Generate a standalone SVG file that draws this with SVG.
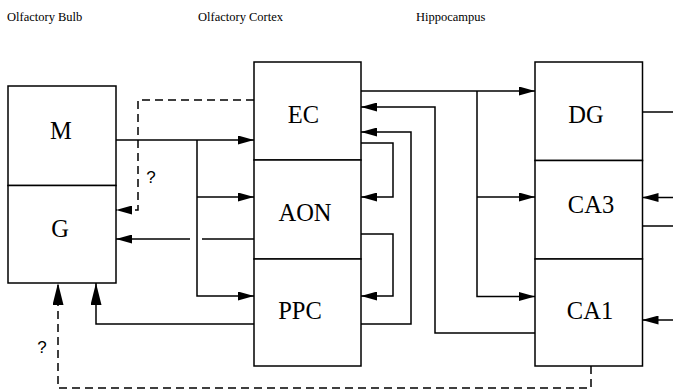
<svg xmlns="http://www.w3.org/2000/svg" width="673" height="391" viewBox="0 0 673 391">
<style>
.box{fill:#fff;stroke:#000;stroke-width:1.5}
.ln{fill:none;stroke:#000;stroke-width:1.5}
.dash{fill:none;stroke:#000;stroke-width:1.5;stroke-dasharray:8 5}
.title{font-family:"Liberation Serif","Times New Roman",serif;font-size:12.5px;fill:#000}
.lbl{font-family:"Liberation Serif","Times New Roman",serif;font-size:24.5px;fill:#000;text-anchor:middle}
.q{font-family:"Liberation Sans",Arial,sans-serif;font-size:17px;fill:#000;text-anchor:middle}
</style>
<defs>
<marker id="ah" viewBox="0 0 16 9" refX="16" refY="4.5" markerWidth="16" markerHeight="9" markerUnits="userSpaceOnUse" orient="auto">
<path d="M0,0 L16,4.5 L0,9 Z" fill="#000" stroke="none"/>
</marker>
<marker id="ahbig" viewBox="0 0 22 11" refX="22" refY="5.5" markerWidth="22" markerHeight="11" markerUnits="userSpaceOnUse" orient="auto">
<path d="M0,0 L22,5.5 L0,11 Z" fill="#000" stroke="none"/>
</marker>
</defs>
<rect width="673" height="391" fill="#fff"/>
<g id="titles">
<text class="title" x="7" y="21">Olfactory Bulb</text>
<text class="title" x="198" y="21">Olfactory Cortex</text>
<text class="title" x="416" y="21">Hippocampus</text>
</g>
<g id="node-M"><rect class="box" x="8" y="86" width="108" height="99.5"/><text class="lbl" x="61" y="139">M</text></g>
<g id="node-G"><rect class="box" x="8" y="185.5" width="108" height="97.5"/><text class="lbl" x="60" y="237">G</text></g>
<g id="node-EC"><rect class="box" x="254" y="62" width="107" height="98"/><text class="lbl" x="303.5" y="122.5">EC</text></g>
<g id="node-AON"><rect class="box" x="254" y="160" width="107" height="99"/><text class="lbl" x="305" y="220.5">AON</text></g>
<g id="node-PPC"><rect class="box" x="254" y="259" width="107" height="107"/><text class="lbl" x="300" y="319">PPC</text></g>
<g id="node-DG"><rect class="box" x="535" y="62" width="107.5" height="98.5"/><text class="lbl" x="586" y="123">DG</text></g>
<g id="node-CA3"><rect class="box" x="535" y="160.5" width="107.5" height="98.5"/><text class="lbl" x="591" y="213">CA3</text></g>
<g id="node-CA1"><rect class="box" x="535" y="259" width="107.5" height="107"/><text class="lbl" x="590" y="319">CA1</text></g>
<g id="connectors">
<path class="ln" d="M116,140 L254,140" marker-end="url(#ah)"/>
<path class="ln" d="M197,140 L197,296 L254,296" marker-end="url(#ah)"/>
<path class="ln" d="M197,197 L254,197" marker-end="url(#ah)"/>
<path class="dash" d="M254,100 L138,100 L138,210 L116,210" marker-end="url(#ah)"/>
<text class="q" x="151" y="183">?</text>
<path class="ln" d="M254,239 L202,239"/>
<path class="ln" d="M190,239 L116,239" marker-end="url(#ah)"/>
<path class="ln" d="M254,324 L96,324 L96,283" marker-end="url(#ahbig)"/>
<path class="dash" d="M591,366 L591,388 L58,388 L58,283" marker-end="url(#ahbig)"/>
<text class="q" x="42" y="353">?</text>
<path class="ln" d="M361,91 L535,91" marker-end="url(#ah)"/>
<path class="ln" d="M477,91 L477,296.5 L535,296.5" marker-end="url(#ah)"/>
<path class="ln" d="M477,197 L535,197" marker-end="url(#ah)"/>
<path class="ln" d="M535,333 L435,333 L435,107 L361,107" marker-end="url(#ah)"/>
<path class="ln" d="M361,324 L411,324 L411,132 L361,132" marker-end="url(#ah)"/>
<path class="ln" d="M361,143 L393,143 L393,197 L361,197" marker-end="url(#ah)"/>
<path class="ln" d="M361,234 L393,234 L393,296 L361,296" marker-end="url(#ah)"/>
<path class="ln" d="M642.5,112 L673,112"/>
<path class="ln" d="M673,197.5 L642.5,197.5" marker-end="url(#ah)"/>
<path class="ln" d="M642.5,226 L673,226"/>
<path class="ln" d="M673,320 L642.5,320" marker-end="url(#ah)"/>
</g>
</svg>
